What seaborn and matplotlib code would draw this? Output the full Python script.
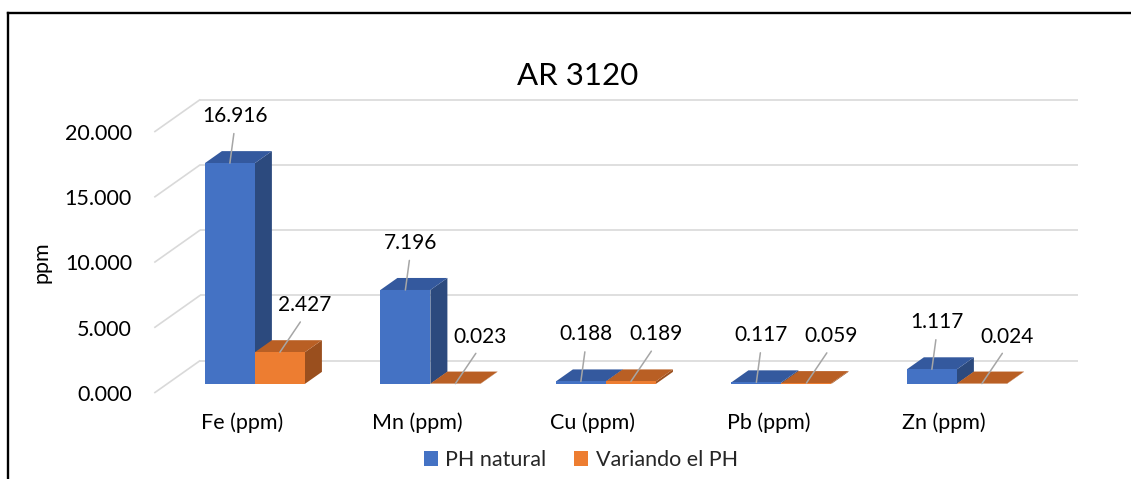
import matplotlib
matplotlib.use("Agg")
import numpy as np
import pandas as pd
import matplotlib.pyplot as plt
from matplotlib.patches import Polygon
from matplotlib.lines import Line2D
import seaborn as sns

# ---------------- data ----------------
categories = ["Fe (ppm)", "Mn (ppm)", "Cu (ppm)", "Pb (ppm)", "Zn (ppm)"]
series_names = ["PH natural", "Variando el PH"]
ph_natural = [16.916, 7.196, 0.188, 0.117, 1.117]
variando_ph = [2.427, 0.023, 0.189, 0.059, 0.024]
y_ticks = [0, 5, 10, 15, 20]
title_text = "AR 3120"
y_label = "ppm"

df = pd.DataFrame({
    "cat": categories * 2,
    "serie": [series_names[0]] * len(categories) + [series_names[1]] * len(categories),
    "val": ph_natural + variando_ph,
})

# ---------------- styles ----------------
front_col = {series_names[0]: "#4472C4", series_names[1]: "#ED7D31"}
top_col = {series_names[0]: "#34599E", series_names[1]: "#B95F24"}
side_col = {series_names[0]: "#2C4A7E", series_names[1]: "#9A4F1E"}
grid_col = "#D9D9D9"
leader_col = "#A6A6A6"

sns.set_theme(style="white")
plt.rcParams["font.family"] = ["Lato", "DejaVu Sans"]

W, H = 1131, 479
fig = plt.figure(figsize=(W / 100, H / 100), dpi=100)
ax_l, ax_w = 154.25, 877.5
ax_b, ax_h = 86.0, 261.0
ax = fig.add_axes([ax_l / W, ax_b / H, ax_w / W, ax_h / H])

sns.barplot(data=df, x="cat", y="val", hue="serie", palette=front_col,
            width=0.57, saturation=1, errorbar=None, linewidth=0, ax=ax)

ax.set_xlim(-0.5, 4.5)
ax.set_ylim(0, 20)
x0, x1 = ax.get_xlim()

# depth of the 3D box, expressed in data units
px_x = ax_w / (x1 - x0)
px_y = ax_h / 20.0
DX = 46.0 / px_x
DY = 32.5 / px_y
F_FRONT = 0.28   # bar front position in depth
F_DEPTH = 0.37   # bar depth

# walls: side diagonals and back-wall gridlines
for v in y_ticks:
    ax.plot([x0, x0 + DX], [v, v + DY], color=grid_col, lw=1.2,
            clip_on=False, zorder=1, solid_capstyle="butt")
    ax.plot([x0 + DX, x1 + DX], [v + DY, v + DY], color=grid_col, lw=1.2,
            clip_on=False, zorder=1, solid_capstyle="butt")

# 3D faces for each bar
bdx, bdy = F_DEPTH * DX, F_DEPTH * DY
for h, (cont, name) in enumerate(zip(ax.containers, series_names)):
    for i, rect in enumerate(cont.patches):
        rect.set_x(rect.get_x() + F_FRONT * DX)
        rect.set_y(rect.get_y() + F_FRONT * DY)
        z = 3 + 0.1 * (2 * i + h)
        rect.set_zorder(z + 0.02)
        rect.set_clip_on(False)
        x, y, w, hh = rect.get_x(), rect.get_y(), rect.get_width(), rect.get_height()
        topf = Polygon([(x, y + hh), (x + w, y + hh), (x + w + bdx, y + hh + bdy),
                        (x + bdx, y + hh + bdy)], closed=True,
                       facecolor=top_col[name], edgecolor="none", zorder=z + 0.01,
                       clip_on=False)
        sidef = Polygon([(x + w, y), (x + w + bdx, y + bdy), (x + w + bdx, y + hh + bdy),
                         (x + w, y + hh)], closed=True,
                        facecolor=side_col[name], edgecolor="none", zorder=z,
                        clip_on=False)
        ax.add_patch(topf)
        ax.add_patch(sidef)
        # data label with leader line
        off_x = 5 if h == 0 else 25
        ax.annotate(f"{hh:.3f}", xy=(x + w / 2, y + hh),
                    xytext=(off_x, 47), textcoords="offset pixels",
                    ha="center", va="center", fontsize=15, color="black",
                    zorder=10,
                    arrowprops=dict(arrowstyle="-", color=leader_col, lw=1.1,
                                    shrinkA=3, shrinkB=0, relpos=(0.5, 0.0)))

# axes styling
for s in ax.spines.values():
    s.set_visible(False)
ax.set_yticks(y_ticks)
ax.set_yticklabels([f"{v:.3f}" for v in y_ticks])
ax.tick_params(axis="y", length=0, pad=16, labelsize=15.5, labelcolor="black")
ax.tick_params(axis="x", length=0, pad=14, labelsize=15.5, labelcolor="black")
ax.set_xlabel("")
ax.set_ylabel(y_label, fontsize=15.5, color="black")
ax.yaxis.set_label_coords(-0.117, 0.5)
ax.grid(False)

sns.move_legend(ax, "center", bbox_to_anchor=((581 - ax_l) / ax_w, (19 - ax_b) / ax_h),
                ncol=2, frameon=False, title=None, fontsize=15.5,
                handlelength=0.65, handleheight=0.65, handletextpad=0.35,
                columnspacing=1.3)

fig.text(577.5 / W, 1 - 76 / H, title_text, ha="center", va="center",
         fontsize=22.5, color="black")

# outer frame (top and left edges visible)
fig.add_artist(Line2D([7.5 / W, 7.5 / W], [0, 1 - 12.5 / H], transform=fig.transFigure,
                      color="black", lw=1.7, solid_capstyle="projecting"))
fig.add_artist(Line2D([7.5 / W, 1], [1 - 12.5 / H, 1 - 12.5 / H], transform=fig.transFigure,
                      color="black", lw=1.7, solid_capstyle="projecting"))

fig.savefig("out.png", dpi=100, facecolor="white")
